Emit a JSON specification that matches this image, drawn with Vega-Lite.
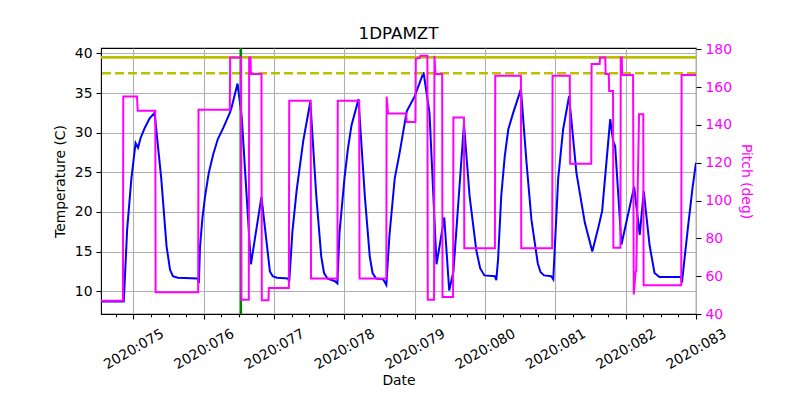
{
  "$schema": "https://vega.github.io/schema/vega-lite/v6.json",
  "width": 595,
  "height": 266,
  "padding": {"left": 53, "top": 25, "right": 5, "bottom": 5},
  "title": {"text": "1DPAMZT", "fontSize": 16.7, "font": "DejaVu Sans", "fontWeight": "normal", "offset": 0, "frame": "group", "anchor": "middle", "color": "black"},
  "config": {
    "view": {"stroke": "black", "strokeWidth": 1.1},
    "font": "DejaVu Sans",
    "axis": {
      "labelFont": "DejaVu Sans", "titleFont": "DejaVu Sans",
      "labelFontSize": 13.9, "titleFontSize": 13.9, "titleFontWeight": "normal",
      "labelColor": "black", "titleColor": "black",
      "tickColor": "black", "tickSize": 5, "tickWidth": 1.1,
      "domain": false,
      "gridColor": "#b0b0b0", "gridWidth": 1.1, "gridOpacity": 1
    }
  },
  "datasets": {
    "temp": [
      {"t": 74.538, "v": 8.7}, {"t": 74.862, "v": 8.7}, {"t": 74.91, "v": 17.8}, {"t": 74.97, "v": 24.2},
      {"t": 75.03, "v": 28.7}, {"t": 75.065, "v": 28.1}, {"t": 75.10, "v": 29.3}, {"t": 75.16, "v": 30.6},
      {"t": 75.23, "v": 31.8}, {"t": 75.30, "v": 32.5}, {"t": 75.395, "v": 24.2}, {"t": 75.47, "v": 15.7},
      {"t": 75.52, "v": 12.7}, {"t": 75.56, "v": 11.9}, {"t": 75.63, "v": 11.7}, {"t": 75.91, "v": 11.6}, {"t": 75.93, "v": 11.0},
      {"t": 75.946, "v": 15.6}, {"t": 75.98, "v": 19.2}, {"t": 76.017, "v": 21.9}, {"t": 76.07, "v": 24.9}, {"t": 76.135, "v": 27.3}, {"t": 76.20, "v": 29.2}, {"t": 76.277, "v": 30.6},
      {"t": 76.37, "v": 32.5}, {"t": 76.39, "v": 33.0}, {"t": 76.48, "v": 36.2}, {"t": 76.54, "v": 31.9},
      {"t": 76.67, "v": 13.4}, {"t": 76.82, "v": 21.9}, {"t": 76.94, "v": 12.5}, {"t": 76.98, "v": 11.9}, {"t": 77.04, "v": 11.7},
      {"t": 77.20, "v": 11.6}, {"t": 77.215, "v": 11.2}, {"t": 77.26, "v": 17.5}, {"t": 77.32, "v": 22.7},
      {"t": 77.415, "v": 29.0}, {"t": 77.515, "v": 33.9}, {"t": 77.60, "v": 22.0}, {"t": 77.67, "v": 14.4},
      {"t": 77.71, "v": 12.3}, {"t": 77.76, "v": 11.6}, {"t": 77.86, "v": 11.3}, {"t": 77.90, "v": 11.0}, {"t": 77.93, "v": 17.4},
      {"t": 78.00, "v": 24.2}, {"t": 78.05, "v": 28.0}, {"t": 78.10, "v": 30.9}, {"t": 78.20, "v": 34.2}, {"t": 78.29, "v": 22.0},
      {"t": 78.36, "v": 14.4}, {"t": 78.40, "v": 12.3}, {"t": 78.45, "v": 11.6}, {"t": 78.55, "v": 11.5}, {"t": 78.596, "v": 10.8},
      {"t": 78.64, "v": 17.0}, {"t": 78.715, "v": 24.2}, {"t": 78.79, "v": 27.7}, {"t": 78.886, "v": 32.7},
      {"t": 79.0, "v": 34.6}, {"t": 79.125, "v": 37.6}, {"t": 79.21, "v": 32.5}, {"t": 79.31, "v": 13.4},
      {"t": 79.42, "v": 19.3}, {"t": 79.49, "v": 10.1}, {"t": 79.55, "v": 12.5}, {"t": 79.70, "v": 31.1},
      {"t": 79.78, "v": 22.0}, {"t": 79.875, "v": 15.2}, {"t": 79.93, "v": 12.9}, {"t": 79.99, "v": 12.0}, {"t": 80.14, "v": 11.9},
      {"t": 80.16, "v": 11.4}, {"t": 80.185, "v": 14.0}, {"t": 80.23, "v": 22.0}, {"t": 80.28, "v": 27.0}, {"t": 80.33, "v": 30.4},
      {"t": 80.40, "v": 32.5}, {"t": 80.51, "v": 35.5}, {"t": 80.59, "v": 26.2}, {"t": 80.66, "v": 19.0},
      {"t": 80.75, "v": 13.5}, {"t": 80.79, "v": 12.4}, {"t": 80.84, "v": 12.0}, {"t": 80.94, "v": 11.9}, {"t": 80.97, "v": 11.5},
      {"t": 81.04, "v": 24.2}, {"t": 81.11, "v": 30.4}, {"t": 81.195, "v": 34.6}, {"t": 81.30, "v": 24.9},
      {"t": 81.42, "v": 18.6}, {"t": 81.525, "v": 15.0}, {"t": 81.61, "v": 18.0}, {"t": 81.665, "v": 20.1},
      {"t": 81.78, "v": 31.7}, {"t": 81.82, "v": 29.0}, {"t": 81.85, "v": 28.3}, {"t": 81.94, "v": 15.9},
      {"t": 82.12, "v": 23.2}, {"t": 82.20, "v": 17.1}, {"t": 82.257, "v": 22.6}, {"t": 82.34, "v": 15.8},
      {"t": 82.41, "v": 12.3}, {"t": 82.48, "v": 11.8}, {"t": 82.79, "v": 11.8}, {"t": 82.80, "v": 11.1},
      {"t": 82.89, "v": 18.4}, {"t": 82.95, "v": 23.0}, {"t": 83.0, "v": 26.2}
    ],
    "pitch": [
      {"t": 74.538, "p": 47}, {"t": 74.85, "p": 47}, {"t": 74.855, "p": 155}, {"t": 75.05, "p": 155},
      {"t": 75.06, "p": 147.5}, {"t": 75.31, "p": 147.5}, {"t": 75.315, "p": 51.5}, {"t": 75.92, "p": 51.5},
      {"t": 75.925, "p": 148}, {"t": 76.37, "p": 148}, {"t": 76.375, "p": 175.7}, {"t": 76.53, "p": 175.7},
      {"t": 76.535, "p": 47.6}, {"t": 76.64, "p": 47.6}, {"t": 76.645, "p": 175.7}, {"t": 76.665, "p": 175.7},
      {"t": 76.67, "p": 167}, {"t": 76.82, "p": 167}, {"t": 76.825, "p": 47.3}, {"t": 76.92, "p": 47.3},
      {"t": 76.925, "p": 53.8}, {"t": 77.21, "p": 53.8}, {"t": 77.215, "p": 152.8}, {"t": 77.52, "p": 152.8},
      {"t": 77.525, "p": 58.8}, {"t": 77.90, "p": 58.8}, {"t": 77.905, "p": 152.8}, {"t": 78.21, "p": 152.8},
      {"t": 78.215, "p": 58.8}, {"t": 78.596, "p": 58.8}, {"t": 78.60, "p": 155}, {"t": 78.62, "p": 146},
      {"t": 78.88, "p": 146}, {"t": 78.885, "p": 141.6}, {"t": 79.01, "p": 141.6}, {"t": 79.015, "p": 175},
      {"t": 79.07, "p": 175.5}, {"t": 79.08, "p": 176.6}, {"t": 79.18, "p": 176.6}, {"t": 79.185, "p": 47.6},
      {"t": 79.275, "p": 47.6}, {"t": 79.28, "p": 176.6}, {"t": 79.295, "p": 167}, {"t": 79.39, "p": 167},
      {"t": 79.395, "p": 49}, {"t": 79.545, "p": 49}, {"t": 79.55, "p": 144}, {"t": 79.70, "p": 144},
      {"t": 79.705, "p": 74.8}, {"t": 80.14, "p": 74.8}, {"t": 80.145, "p": 166}, {"t": 80.51, "p": 166},
      {"t": 80.515, "p": 74.8}, {"t": 80.955, "p": 74.8}, {"t": 80.96, "p": 166}, {"t": 81.205, "p": 166},
      {"t": 81.21, "p": 119.5}, {"t": 81.51, "p": 119.5}, {"t": 81.515, "p": 172.2}, {"t": 81.63, "p": 172.2},
      {"t": 81.635, "p": 175.7}, {"t": 81.71, "p": 175.7}, {"t": 81.715, "p": 167}, {"t": 81.76, "p": 167},
      {"t": 81.765, "p": 158}, {"t": 81.82, "p": 158}, {"t": 81.825, "p": 75}, {"t": 81.925, "p": 75},
      {"t": 81.93, "p": 175.7}, {"t": 81.945, "p": 175.7}, {"t": 81.95, "p": 166.4}, {"t": 82.105, "p": 166.4},
      {"t": 82.115, "p": 50.3}, {"t": 82.14, "p": 62}, {"t": 82.15, "p": 62.6}, {"t": 82.19, "p": 145.7},
      {"t": 82.25, "p": 145.7}, {"t": 82.255, "p": 55.2}, {"t": 82.79, "p": 55.2}, {"t": 82.795, "p": 166.4},
      {"t": 83.0, "p": 166.4}
    ],
    "limits": [
      {"lim": 39.5, "kind": "solid"},
      {"lim": 37.5, "kind": "dashed"}
    ],
    "marker": [{"day": 76.526}]
  },
  "layer": [
    {
      "layer": [
        {
          "data": {"name": "temp"},
          "mark": {"type": "line", "color": "#0000ff", "strokeWidth": 2, "clip": true},
          "encoding": {
            "x": {
              "field": "t", "type": "quantitative",
              "scale": {"domain": [74.538, 83.0], "nice": false, "zero": false},
              "axis": {
                "title": "Date", "values": [75, 76, 77, 78, 79, 80, 81, 82, 83],
                "labelExpr": "'2020:' + format(datum.value, '03d')",
                "labelAngle": -30, "labelAlign": "center", "labelBaseline": "middle",
                "labelPadding": 30, "titlePadding": 2, "grid": true, "labelOverlap": false, "labelFlush": false
              }
            },
            "y": {
              "field": "v", "type": "quantitative",
              "scale": {"domain": [7.13, 40.68], "nice": false, "zero": false},
              "axis": {
                "title": "Temperature (C)", "values": [10, 15, 20, 25, 30, 35, 40],
                "grid": true, "labelPadding": 4, "titlePadding": 7
              }
            }
          }
        },
        {
          "data": {"name": "limits"},
          "transform": [{"filter": "datum.kind == 'solid'"}],
          "mark": {"type": "rule", "color": "#bfbf00", "strokeWidth": 2.6},
          "encoding": {"y": {"field": "lim", "type": "quantitative"}}
        },
        {
          "data": {"name": "limits"},
          "transform": [{"filter": "datum.kind == 'dashed'"}],
          "mark": {"type": "rule", "color": "#bfbf00", "strokeWidth": 2.6, "strokeDash": [9, 4]},
          "encoding": {"y": {"field": "lim", "type": "quantitative"}}
        },
        {
          "data": {"name": "marker"},
          "mark": {"type": "rule", "color": "#008000", "strokeWidth": 2.6},
          "encoding": {"x": {"field": "day", "type": "quantitative"}}
        }
      ]
    },
    {
      "data": {"name": "pitch"},
      "mark": {"type": "line", "color": "#ff00ff", "strokeWidth": 2, "clip": true},
      "encoding": {
        "x": {
          "field": "t", "type": "quantitative",
          "axis": {
            "orient": "bottom", "title": null, "labels": false, "grid": false, "domain": false,
            "tickSize": 2.8, "values": [74.75, 75.25, 75.5, 75.75, 76.25, 76.5, 76.75, 77.25, 77.5, 77.75, 78.25, 78.5, 78.75, 79.25, 79.5, 79.75, 80.25, 80.5, 80.75, 81.25, 81.5, 81.75, 82.25, 82.5, 82.75]
          }
        },
        "y": {
          "field": "p", "type": "quantitative",
          "scale": {"domain": [40, 180.7], "nice": false, "zero": false},
          "axis": {
            "orient": "right", "title": "Pitch (deg)", "values": [40, 60, 80, 100, 120, 140, 160, 180],
            "grid": false, "labelColor": "#ff00ff", "titleColor": "#ff00ff", "labelPadding": 4, "titlePadding": 7
          }
        }
      }
    }
  ],
  "resolve": {"scale": {"y": "independent"}, "axis": {"y": "independent", "x": "independent"}}
}
